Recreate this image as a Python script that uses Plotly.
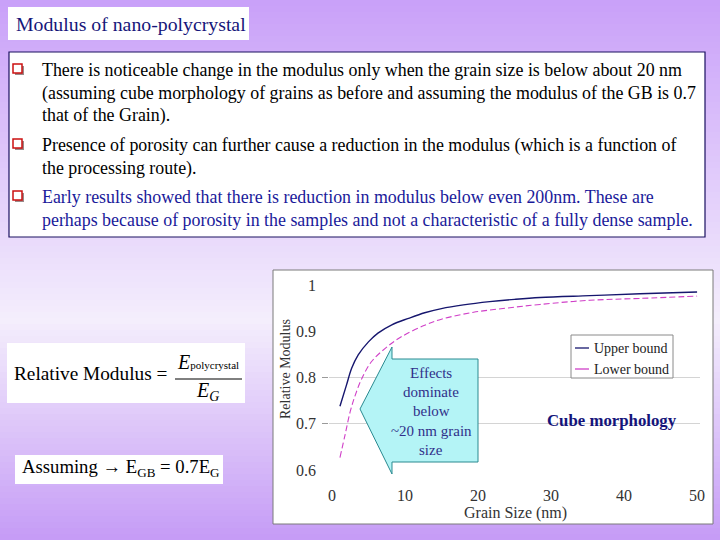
import plotly.graph_objects as go

W, H = 720, 540

# ---- data ----
grain_upper = [1.1, 2.0, 2.7, 3.6, 5.0, 6.3, 8.2, 10.5, 12.7, 15.0, 18.0, 21.6, 25.0, 28.5, 35.3, 42.2, 50.0]
mod_upper   = [0.738, 0.784, 0.820, 0.849, 0.877, 0.896, 0.914, 0.928, 0.940, 0.949, 0.957, 0.964, 0.969, 0.973, 0.977, 0.981, 0.985]
grain_lower = [1.1, 1.8, 2.5, 3.2, 4.1, 5.4, 7.3, 9.5, 12.7, 15.0, 19.4, 23.9, 28.5, 35.3, 42.2, 50.0]
mod_lower   = [0.627, 0.676, 0.726, 0.762, 0.798, 0.834, 0.863, 0.888, 0.913, 0.926, 0.941, 0.950, 0.958, 0.967, 0.971, 0.976]
series_names = ["Upper bound", "Lower bound"]
series_colors = ["#16166e", "#d040c8"]
y_ticks = [0.6, 0.7, 0.8, 0.9, 1.0]
y_tick_text = ["0.6", "0.7", "0.8", "0.9", "1"]
y_grid = [0.7, 0.8]
x_ticks = [0, 10, 20, 30, 40, 50]

title_text = "Modulus of nano-polycrystal"
bullet_lines = [
    ["There is noticeable change in the modulus only when the grain size is below about 20 nm",
     "(assuming cube morphology of grains as before and assuming the modulus of the GB is 0.7",
     "that of the Grain)."],
    ["Presence of porosity can further cause a reduction in the modulus (which is a function of",
     "the processing route)."],
    ["Early results showed that there is reduction in modulus below even 200nm. These are",
     "perhaps because of porosity in the samples and not a characteristic of a fully dense sample."],
]
arrow_lines = ["Effects", "dominate", "below", "~20 nm grain", "size"]

SERIF = "Liberation Serif, Times New Roman, serif"
NAVY = "#16167a"

def px(x):
    return x / W

def py(y):
    return 1 - y / H

fig = go.Figure()
fig.add_trace(go.Scatter(x=grain_upper, y=mod_upper, mode="lines", name=series_names[0],
                         line=dict(color=series_colors[0], width=1.4, shape="spline")))
fig.add_trace(go.Scatter(x=grain_lower, y=mod_lower, mode="lines", name=series_names[1],
                         line=dict(color=series_colors[1], width=1.1, dash="6px,3px", shape="spline")))
# invisible trace carrying the grid-only overlay axis
fig.add_trace(go.Scatter(x=[grain_upper[0]], y=[mod_upper[0]], yaxis="y2", mode="markers",
                         marker=dict(opacity=0), hoverinfo="skip", showlegend=False))

shapes = []
# background gradient
def lerp(a, b, t):
    return tuple(int(round(a[i] + (b[i] - a[i]) * t)) for i in range(3))
top_c, mid_c, bot_c = (201, 160, 249), (244, 238, 252), (197, 155, 246)
step = 6
for i in range(0, H, step):
    yc = i + step / 2
    if yc < 320:
        c = lerp(top_c, mid_c, yc / 320)
    else:
        c = lerp(mid_c, bot_c, (yc - 320) / (H - 320))
    shapes.append(dict(type="rect", xref="paper", yref="paper", x0=0, x1=1, y0=py(i + step), y1=py(i),
                       fillcolor="rgb(%d,%d,%d)" % c, line=dict(width=0), layer="below"))

# title box
shapes.append(dict(type="rect", xref="paper", yref="paper", x0=px(8), x1=px(249), y0=py(40), y1=py(7),
                   fillcolor="white", line=dict(width=0), layer="below"))
# text box
shapes.append(dict(type="rect", xref="paper", yref="paper", x0=px(9), x1=px(705), y0=py(237), y1=py(52),
                   fillcolor="white", line=dict(color="#1a1060", width=1.2), layer="below"))
# formula boxes
shapes.append(dict(type="rect", xref="paper", yref="paper", x0=px(7), x1=px(245), y0=py(403), y1=py(343),
                   fillcolor="white", line=dict(width=0), layer="below"))
shapes.append(dict(type="rect", xref="paper", yref="paper", x0=px(15), x1=px(223), y0=py(484), y1=py(455),
                   fillcolor="white", line=dict(width=0), layer="below"))
# fraction bar
shapes.append(dict(type="line", xref="paper", yref="paper", x0=px(175), x1=px(242), y0=py(379), y1=py(379),
                   line=dict(color="black", width=1), layer="above"))
# chart frame
shapes.append(dict(type="rect", xref="paper", yref="paper", x0=px(273), x1=px(713), y0=py(524), y1=py(270),
                   fillcolor="white", line=dict(color="#7a7a7a", width=1), layer="below"))

# bullets
bullet_y = [70, 145, 197]
for by in bullet_y:
    shapes.append(dict(type="rect", xref="paper", yref="paper", x0=px(15), x1=px(24), y0=py(by + 5), y1=py(by - 4),
                       fillcolor="#9a8a8a", line=dict(width=0), layer="above"))
    shapes.append(dict(type="rect", xref="paper", yref="paper", x0=px(13), x1=px(22), y0=py(by + 3), y1=py(by - 6),
                       fillcolor="white", line=dict(color="#cc1010", width=1.5), layer="above"))

# block arrow
pts = [(478, 359), (392, 359), (392, 347), (360, 409), (392, 474), (392, 462), (478, 462)]
path = "M " + " L ".join("%f,%f" % (px(a), py(b)) for a, b in pts) + " Z"
shapes.append(dict(type="path", xref="paper", yref="paper", path=path, fillcolor="#b4f4f6",
                   line=dict(color="#2a8a90", width=1), layer="above"))

# manual legend
shapes.append(dict(type="rect", xref="paper", yref="paper", x0=px(571), x1=px(673), y0=py(378), y1=py(335),
                   fillcolor="white", line=dict(color="#8a8a8a", width=1), layer="above"))
annotations = []
for k, (nm, col) in enumerate(zip(series_names, series_colors)):
    yy = 348 + 21 * k
    shapes.append(dict(type="line", xref="paper", yref="paper", x0=px(575), x1=px(589), y0=py(yy), y1=py(yy),
                       line=dict(color=col, width=1.3), layer="above"))
    annotations.append(dict(text=nm, x=px(592), y=py(yy), xref="paper", yref="paper", showarrow=False,
                            xanchor="left", yanchor="middle", font=dict(family=SERIF, size=14, color="#222222")))

annotations.append(dict(text=title_text, x=px(14), y=py(24), xref="paper", yref="paper", showarrow=False,
                        xanchor="left", yanchor="middle", font=dict(family=SERIF, size=19.8, color=NAVY)))
line_y = [[70, 93, 116], [145, 168], [197, 220]]
colors = ["black", "black", "#1a1a9a"]
for lines, ys, col in zip(bullet_lines, line_y, colors):
    for t, yy in zip(lines, ys):
        annotations.append(dict(text=t, x=px(40), y=py(yy), xref="paper", yref="paper", showarrow=False,
                                xanchor="left", yanchor="middle", font=dict(family=SERIF, size=17.9, color=col)))

annotations.append(dict(text="Relative Modulus =", x=px(12), y=py(373), xref="paper", yref="paper", showarrow=False,
                        xanchor="left", yanchor="middle", font=dict(family=SERIF, size=19.3, color="black")))
annotations.append(dict(text="<i>E</i><span style='font-size:11px'>polycrystal</span>", x=px(208), y=py(362),
                        xref="paper", yref="paper", showarrow=False, xanchor="center", yanchor="middle",
                        font=dict(family=SERIF, size=20, color="black")))
annotations.append(dict(text="<i>E</i><sub><i>G</i></sub>", x=px(208), y=py(391), xref="paper", yref="paper",
                        showarrow=False, xanchor="center", yanchor="middle",
                        font=dict(family=SERIF, size=20, color="black")))
annotations.append(dict(text="Assuming \u2192 E<sub>GB</sub> = 0.7E<sub>G</sub>", x=px(20), y=py(468),
                        xref="paper", yref="paper", showarrow=False, xanchor="left", yanchor="middle",
                        font=dict(family=SERIF, size=18.7, color="black")))

# arrow text
for t, yy in zip(arrow_lines, [373, 392, 411, 431, 450]):
    annotations.append(dict(text=t, x=px(431), y=py(yy), xref="paper", yref="paper", showarrow=False,
                            xanchor="center", yanchor="middle", font=dict(family=SERIF, size=15, color="#30308a")))

annotations.append(dict(text="<b>Cube morphology</b>", x=px(612), y=py(420), xref="paper", yref="paper",
                        showarrow=False, xanchor="center", yanchor="middle",
                        font=dict(family=SERIF, size=16.8, color="#14147a")))
annotations.append(dict(text="Relative Modulus", x=px(285), y=py(369), xref="paper", yref="paper",
                        showarrow=False, textangle=-90, xanchor="center", yanchor="middle",
                        font=dict(family=SERIF, size=14, color="#333333")))
annotations.append(dict(text="Grain Size (nm)", x=px(515), y=py(513), xref="paper", yref="paper",
                        showarrow=False, xanchor="center", yanchor="middle",
                        font=dict(family=SERIF, size=16, color="#333333")))

fig.update_layout(
    template="none",
    width=W, height=H, margin=dict(l=0, r=0, t=0, b=0, pad=0, autoexpand=False),
    paper_bgcolor="#e6d8fb", plot_bgcolor="rgba(0,0,0,0)",
    shapes=shapes, annotations=annotations,
    showlegend=False,
    xaxis=dict(domain=[px(329), px(700)], range=[-0.4, 50.4], tickvals=x_ticks, showgrid=False,
               zeroline=False, showline=False, ticks="", ticklabelstandoff=14, automargin=False,
               tickfont=dict(family=SERIF, size=16, color="#333333")),
    yaxis=dict(domain=[py(470), py(285)], range=[0.6, 1.0], tickvals=y_ticks, ticktext=y_tick_text,
               showgrid=False, zeroline=False, showline=False, ticks="", ticklabelstandoff=12,
               automargin=False, tickfont=dict(family=SERIF, size=16, color="#333333")),
    yaxis2=dict(overlaying="y", side="left", range=[0.6, 1.0], tickvals=y_grid, showticklabels=False,
                showgrid=True, gridcolor="#d4d4d4", gridwidth=1, zeroline=False, showline=False,
                ticks="outside", ticklen=6, tickcolor="#9a9a9a", automargin=False),
)

fig.write_html("out.html", config={"displayModeBar": False},
               post_script="document.body.style.margin='0';document.body.style.overflow='hidden';")
